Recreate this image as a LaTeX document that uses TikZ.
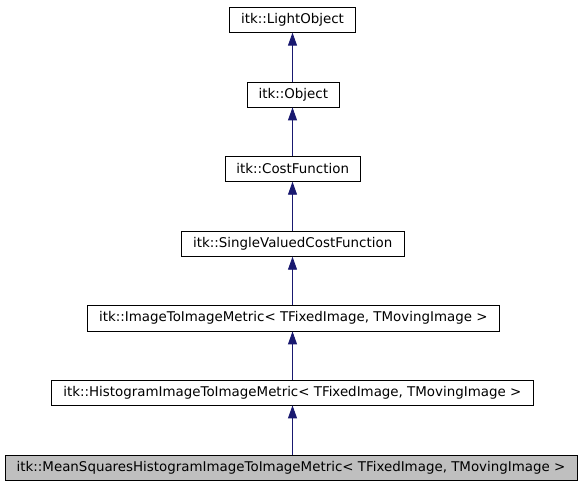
\documentclass[tikz,border=0pt]{standalone}
\usepackage{fontspec}
\setmainfont{DejaVu Sans}
\usetikzlibrary{arrows.meta}
\definecolor{edgeblue}{HTML}{191970}
\definecolor{boxgray}{HTML}{BFBFBF}
\begin{document}
\begin{tikzpicture}[x=1pt,y=1pt,
  cls/.style={draw=black, line width=0.8pt, fill=white, minimum height=25pt, inner sep=0pt, font=\fontsize{13.4}{15}\selectfont},
  cur/.style={cls, fill=boxgray},
  inh/.style={draw=edgeblue, line width=0.9pt, -{Triangle[length=13pt,width=9pt]}}]
\useasboundingbox (0,0) rectangle (584,-485);
\fill[white] (0,0) rectangle (584,-485);
\node[cls, minimum width=126pt] (lo) at (292.5,-19.75) {itk::LightObject};
\node[cls, minimum width=92pt] (ob) at (293.3,-94.5) {itk::Object};
\node[cls, minimum width=135pt] (cf) at (292.7,-168.8) {itk::CostFunction};
\node[cls, minimum width=223pt] (sv) at (292.7,-243.8) {itk::SingleValuedCostFunction};
\node[cls, minimum width=412pt, minimum height=26pt] (im) at (293.3,-318) {itk::ImageToImageMetric< TFixedImage, TMovingImage >};
\node[cls, minimum width=482pt] (hi) at (292.3,-392.5) {itk::HistogramImageToImageMetric< TFixedImage, TMovingImage >};
\node[cur, minimum width=572pt] (ms) at (291,-467.5) {itk::MeanSquaresHistogramImageToImageMetric< TFixedImage, TMovingImage >};
\draw[inh] (ob.north -| 292.5,0) -- (lo.south -| 292.5,0);
\draw[inh] (cf.north -| 292.5,0) -- (ob.south -| 292.5,0);
\draw[inh] (sv.north -| 292.5,0) -- (cf.south -| 292.5,0);
\draw[inh] (im.north -| 292.5,0) -- (sv.south -| 292.5,0);
\draw[inh] (hi.north -| 292.5,0) -- (im.south -| 292.5,0);
\draw[inh] (ms.north -| 292.5,0) -- (hi.south -| 292.5,0);
\end{tikzpicture}
\end{document}
